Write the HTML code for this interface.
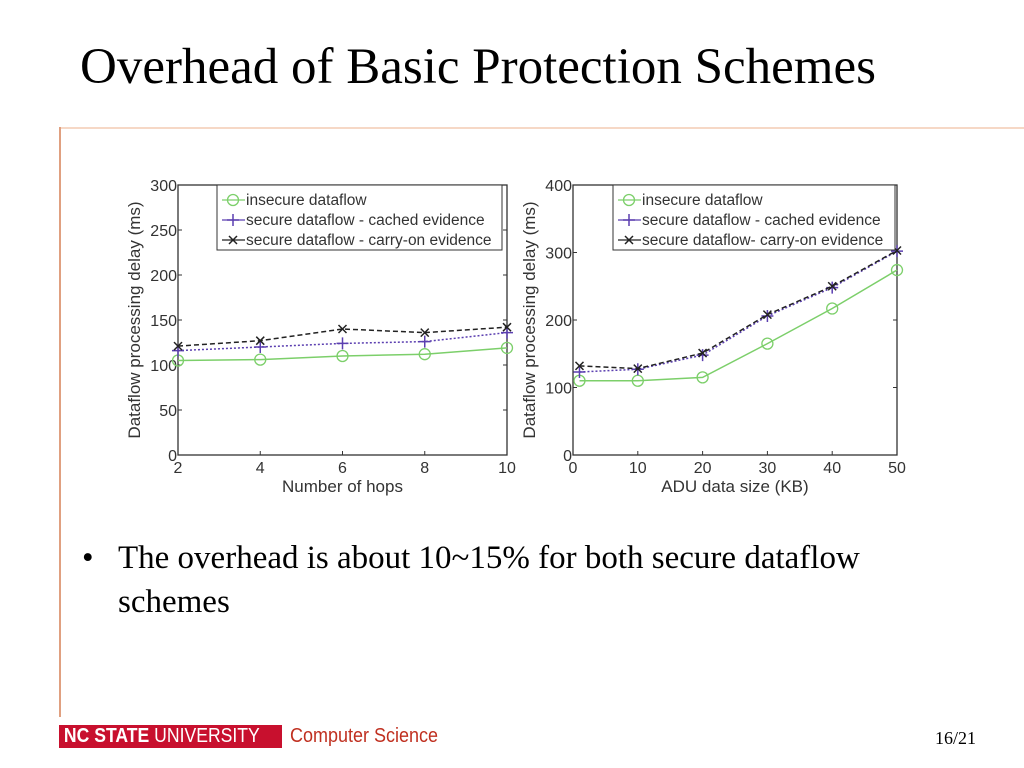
<!DOCTYPE html>
<html><head><meta charset="utf-8"><style>
body{margin:0;width:1024px;height:768px;background:#fff;position:relative;overflow:hidden;font-family:"Liberation Serif",serif}
.t{position:absolute}
</style></head><body>
<div class="t" style="left:80px;top:38px;font-size:51px;color:#000;white-space:nowrap">Overhead of Basic Protection Schemes</div>
<div class="t" style="left:60px;top:127px;width:964px;height:2px;background:#f6d8c6"></div>
<div class="t" style="left:59px;top:127px;width:2px;height:590px;background:#e0a080"></div>
<svg class="t" style="left:0;top:0" width="1024" height="768" id="svg"></svg>
<div class="t" style="left:82px;top:536px;font-size:33px;line-height:44px;color:#000;white-space:nowrap"><span style="display:inline-block;width:36px">•</span>The overhead is about 10~15% for both secure dataflow<br><span style="display:inline-block;width:36px"></span>schemes</div>
<div class="t" style="left:59px;top:725px;width:223px;height:23px;background:#c8102e;color:#fff;font-family:'Liberation Sans',sans-serif;font-size:20px;line-height:23px;white-space:nowrap;overflow:hidden"><span style="display:inline-block;transform:scaleX(0.88);transform-origin:0 0">&nbsp;<b>NC STATE</b> UNIVERSITY</span></div>
<div class="t" style="left:290px;top:725px;color:#c03020;font-family:'Liberation Sans',sans-serif;font-size:20px;transform:scaleX(0.9);transform-origin:0 0;white-space:nowrap">Computer Science</div>
<div class="t" style="left:935px;top:728px;font-size:18px">16/21</div>
<script>
const leftX=[2,4,6,8,10];
const leftInsecure=[105,106,110,112,119];
const leftCached=[116,120,124,126,136];
const leftCarry=[121,127,140,136,142];
const leftXTicks=[2,4,6,8,10];
const leftYTicks=[0,50,100,150,200,250,300];
const rightX=[1,10,20,30,40,50];
const rightInsecure=[110,110,115,165,217,274];
const rightCached=[123,127,148,206,248,302];
const rightCarry=[132,128,151,208,250,303];
const rightXTicks=[0,10,20,30,40,50];
const rightYTicks=[0,100,200,300,400];
const NS='http://www.w3.org/2000/svg';
const svg=document.getElementById('svg');
function mk(tag,attrs,parent){const e=document.createElementNS(NS,tag);for(const k in attrs)e.setAttribute(k,attrs[k]);(parent||svg).appendChild(e);return e;}
function chart(o){
 const g=mk('g',{});
 
 
 const sx=v=>o.x0+(v-o.xmin)/(o.xmax-o.xmin)*(o.x1-o.x0);
 const sy=v=>o.y0-(v-o.ymin)/(o.ymax-o.ymin)*(o.y0-o.y1);
 const f='font-family:Liberation Sans,sans-serif;font-size:16px;fill:#333';
 o.yt.forEach(v=>{const y=sy(v);mk('line',{x1:o.x0,x2:o.x0+4,y1:y,y2:y,stroke:'#333'},g);mk('line',{x1:o.x1,x2:o.x1-4,y1:y,y2:y,stroke:'#333'},g);const t=mk('text',{x:o.x0-1,y:y+6,'text-anchor':'end',style:f},g);t.textContent=v;});
 o.xt.forEach(v=>{const x=sx(v);mk('line',{x1:x,x2:x,y1:o.y0,y2:o.y0-4,stroke:'#333'},g);mk('line',{x1:x,x2:x,y1:o.y1,y2:o.y1+4,stroke:'#333'},g);const t=mk('text',{x:x,y:o.y0+18,'text-anchor':'middle',style:f},g);t.textContent=v;});
 mk('rect',{x:o.x0,y:o.y1,width:o.x1-o.x0,height:o.y0-o.y1,fill:'none',stroke:'#333','stroke-width':1.3},g);
 const xl=mk('text',{x:(o.x0+o.x1)/2,y:o.y0+37,'text-anchor':'middle',style:f+';font-size:17px'},g);xl.textContent=o.xlabel;
 const yl=mk('text',{x:0,y:0,'text-anchor':'middle',transform:`translate(${o.x0-38},${(o.y0+o.y1)/2}) rotate(-90)`,style:f+';font-size:17px'},g);yl.textContent='Dataflow processing delay (ms)';
 const series=[{d:o.s1,c:'#7ccf6a',dash:'',m:'o',n:'insecure'},{d:o.s2,c:'#5b3fb0',dash:'2,2',m:'+',n:'cached'},{d:o.s3,c:'#222',dash:'5,3',m:'x',n:'carry'}];
 series.forEach(s=>{
  const p=mk('polyline',{points:o.xs.map((x,i)=>sx(x)+','+sy(s.d[i])).join(' '),fill:'none',stroke:s.c,'stroke-width':1.5,'stroke-dasharray':s.dash},g);
  
  
  o.xs.forEach((x,i)=>marker(g,s.m,sx(x),sy(s.d[i]),s.c));
 });
 const lg=mk('g',{},g);
 
 
 mk('rect',{x:o.lx,y:o.y1,width:o.lw,height:65,fill:'#fff',stroke:'#333'},lg);
 o.labels.forEach((l,i)=>{const y=o.y1+15+i*20;const s=series[i];mk('line',{x1:o.lx+5,x2:o.lx+28,y1:y,y2:y,stroke:s.c,'stroke-width':1.3},lg);marker(lg,s.m,o.lx+16,y,s.c);const t=mk('text',{x:o.lx+29,y:y+5,style:f+';font-size:15.5px'},lg);t.textContent=l;});
}
function marker(g,m,x,y,c){
 if(m==='o')mk('circle',{cx:x,cy:y,r:5.5,fill:'none',stroke:c,'stroke-width':1.3},g);
 else if(m==='+'){mk('path',{d:`M${x-6} ${y}H${x+6}M${x} ${y-6}V${y+6}`,stroke:c,'stroke-width':1.5},g);}
 else mk('path',{d:`M${x-4} ${y-4}L${x+4} ${y+4}M${x-4} ${y+4}L${x+4} ${y-4}`,stroke:c,'stroke-width':1.5},g);
}
chart({name:'hops-chart',x0:178,x1:507,y0:455,y1:185,xmin:2,xmax:10,ymin:0,ymax:300,xs:leftX,s1:leftInsecure,s2:leftCached,s3:leftCarry,xt:leftXTicks,yt:leftYTicks,xlabel:'Number of hops',lx:217,lw:285,labels:['insecure dataflow','secure dataflow - cached evidence','secure dataflow - carry-on evidence']});
chart({name:'size-chart',x0:573,x1:897,y0:455,y1:185,xmin:0,xmax:50,ymin:0,ymax:400,xs:rightX,s1:rightInsecure,s2:rightCached,s3:rightCarry,xt:rightXTicks,yt:rightYTicks,xlabel:'ADU data size (KB)',lx:613,lw:282,labels:['insecure dataflow','secure dataflow - cached evidence','secure dataflow- carry-on evidence']});
</script>
</body></html>
